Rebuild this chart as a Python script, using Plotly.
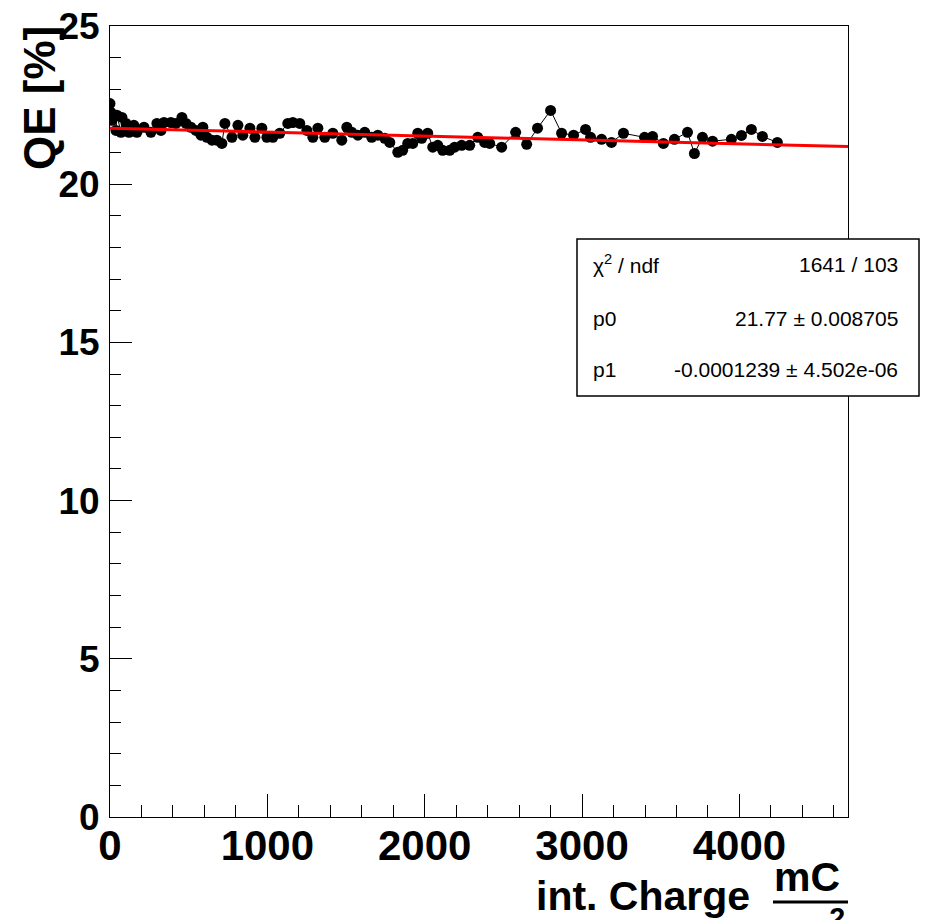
import plotly.graph_objects as go

# Data
charge_mC_cm2 = [0, 6, 13, 38, 44, 70, 76, 102, 121, 152, 171, 216, 260, 298, 324, 343, 387, 419, 457, 483,
                 514, 546, 578, 590, 616, 648, 679, 711, 730, 775, 813, 844, 889, 921, 965, 997, 1035, 1079,
                 1130, 1162, 1206, 1251, 1289, 1321, 1365, 1416, 1473, 1505, 1537, 1575, 1619, 1663, 1702,
                 1746, 1778, 1829, 1860, 1892, 1924, 1956, 1981, 2019, 2051, 2083, 2114, 2159, 2190, 2235,
                 2286, 2337, 2381, 2413, 2489, 2578, 2648, 2717, 2800, 2870, 2946, 3022, 3054, 3124, 3187,
                 3263, 3397, 3448, 3517, 3587, 3670, 3714, 3765, 3829, 3949, 4013, 4076, 4146, 4241]
qe_percent = [22.55, 22.27, 22.02, 21.70, 22.18, 21.64, 22.11, 21.92, 21.64, 21.86, 21.64, 21.80, 21.64, 21.92,
              21.70, 21.95, 21.95, 21.92, 22.11, 21.92, 21.80, 21.70, 21.55, 21.80, 21.48, 21.39, 21.39,
              21.29, 21.92, 21.48, 21.86, 21.55, 21.77, 21.48, 21.77, 21.48, 21.48, 21.61, 21.92, 21.95,
              21.92, 21.70, 21.48, 21.77, 21.48, 21.61, 21.39, 21.80, 21.64, 21.55, 21.64, 21.48, 21.55,
              21.45, 21.32, 21.01, 21.07, 21.29, 21.29, 21.61, 21.45, 21.61, 21.17, 21.23, 21.07, 21.07,
              21.17, 21.23, 21.23, 21.48, 21.32, 21.29, 21.17, 21.64, 21.26, 21.77, 22.33, 21.61, 21.55,
              21.73, 21.48, 21.42, 21.32, 21.61, 21.48, 21.51, 21.29, 21.42, 21.64, 20.97, 21.48, 21.36,
              21.42, 21.54, 21.73, 21.51, 21.32]

# Fit parameters (stats box)
p0 = 21.77
p0_err = "0.008705"
p1 = -0.0001239
p1_err = "4.502e-06"
chi2_ndf = "1641 / 103"

x_range = [0, 4690]
y_range = [0, 25]
fit_x = [x_range[0], x_range[1]]
fit_y = [p0 + p1 * v for v in fit_x]

W, H = 925, 920
L, R, T, B = 110, 77, 26, 103
pw, ph = W - L - R, H - T - B

def px(xp):
    return (xp - L) / pw

def py(yp):
    return (H - B - yp) / ph

fig = go.Figure()
fig.add_trace(go.Scatter(
    x=charge_mC_cm2, y=qe_percent, mode="lines+markers",
    line=dict(color="black", width=1),
    marker=dict(color="black", size=11, symbol="circle"),
    showlegend=False, hoverinfo="x+y"))
fig.add_trace(go.Scatter(
    x=fit_x, y=fit_y, mode="lines",
    line=dict(color="#ff0000", width=3),
    showlegend=False))

tickfont_x = dict(family="Liberation Sans, Arial, sans-serif", size=42, color="black", weight="bold")
tickfont_y = dict(family="Liberation Sans, Arial, sans-serif", size=37, color="black", weight="bold")

fig.update_xaxes(
    range=x_range, showgrid=False, zeroline=False,
    showline=True, linecolor="black", linewidth=1, mirror=True,
    ticks="inside", ticklen=23, tickwidth=1, tickcolor="black",
    tick0=0, dtick=1000, tickfont=tickfont_x, ticklabelstandoff=-8,
    minor=dict(ticks="inside", ticklen=12, tickwidth=1, tickcolor="black", dtick=200, showgrid=False))
fig.update_yaxes(
    range=y_range, showgrid=False, zeroline=False,
    showline=True, linecolor="black", linewidth=1, mirror=True,
    ticks="inside", ticklen=22, tickwidth=1, tickcolor="black",
    tick0=0, dtick=5, tickfont=tickfont_y, ticklabelstandoff=2,
    minor=dict(ticks="inside", ticklen=11, tickwidth=1, tickcolor="black", dtick=1, showgrid=False))

title_font = dict(family="Liberation Sans, Arial, sans-serif", size=41, color="black", weight="bold")
stat_font = dict(family="Liberation Sans, Arial, sans-serif", size=21, color="black")

annotations = [
    dict(text="QE [%]", textangle=-90, x=px(39), y=py(98), xanchor="center", yanchor="middle",
         font=dict(title_font, size=44)),
    dict(text="int. Charge", x=px(752), y=py(896), xanchor="right", yanchor="middle", font=title_font),
    dict(text="mC", x=px(807), y=py(877), xanchor="center", yanchor="middle", font=title_font),
    dict(text="cm<sup>2</sup>", x=px(807), y=py(900), xanchor="center", yanchor="top", font=title_font),
    dict(text="\u03c7<sup>2</sup> / ndf", x=px(591), y=py(264), xanchor="left", yanchor="middle", font=stat_font),
    dict(text=chi2_ndf, x=px(900), y=py(264), xanchor="right", yanchor="middle", font=stat_font),
    dict(text="p0", x=px(591), y=py(318), xanchor="left", yanchor="middle", font=stat_font),
    dict(text=f"{p0} \u00b1 {p0_err}", x=px(900), y=py(318), xanchor="right", yanchor="middle", font=stat_font),
    dict(text="p1", x=px(591), y=py(369), xanchor="left", yanchor="middle", font=stat_font),
    dict(text=f"{p1} \u00b1 {p1_err}", x=px(900), y=py(369), xanchor="right", yanchor="middle", font=stat_font),
]
for a in annotations:
    a.update(xref="paper", yref="paper", showarrow=False)

shapes = [
    dict(type="rect", xref="paper", yref="paper", x0=px(577), x1=px(919), y0=py(396), y1=py(239),
         line=dict(color="black", width=1.5), fillcolor="white", layer="above"),
    dict(type="line", xref="paper", yref="paper", x0=px(773), x1=px(848), y0=py(902), y1=py(902),
         line=dict(color="black", width=3)),
]

fig.update_layout(
    width=W, height=H, margin=dict(l=L, r=R, t=T, b=B, autoexpand=False),
    paper_bgcolor="white", plot_bgcolor="white",
    annotations=annotations, shapes=shapes, showlegend=False)

fig.write_html("out.html")
